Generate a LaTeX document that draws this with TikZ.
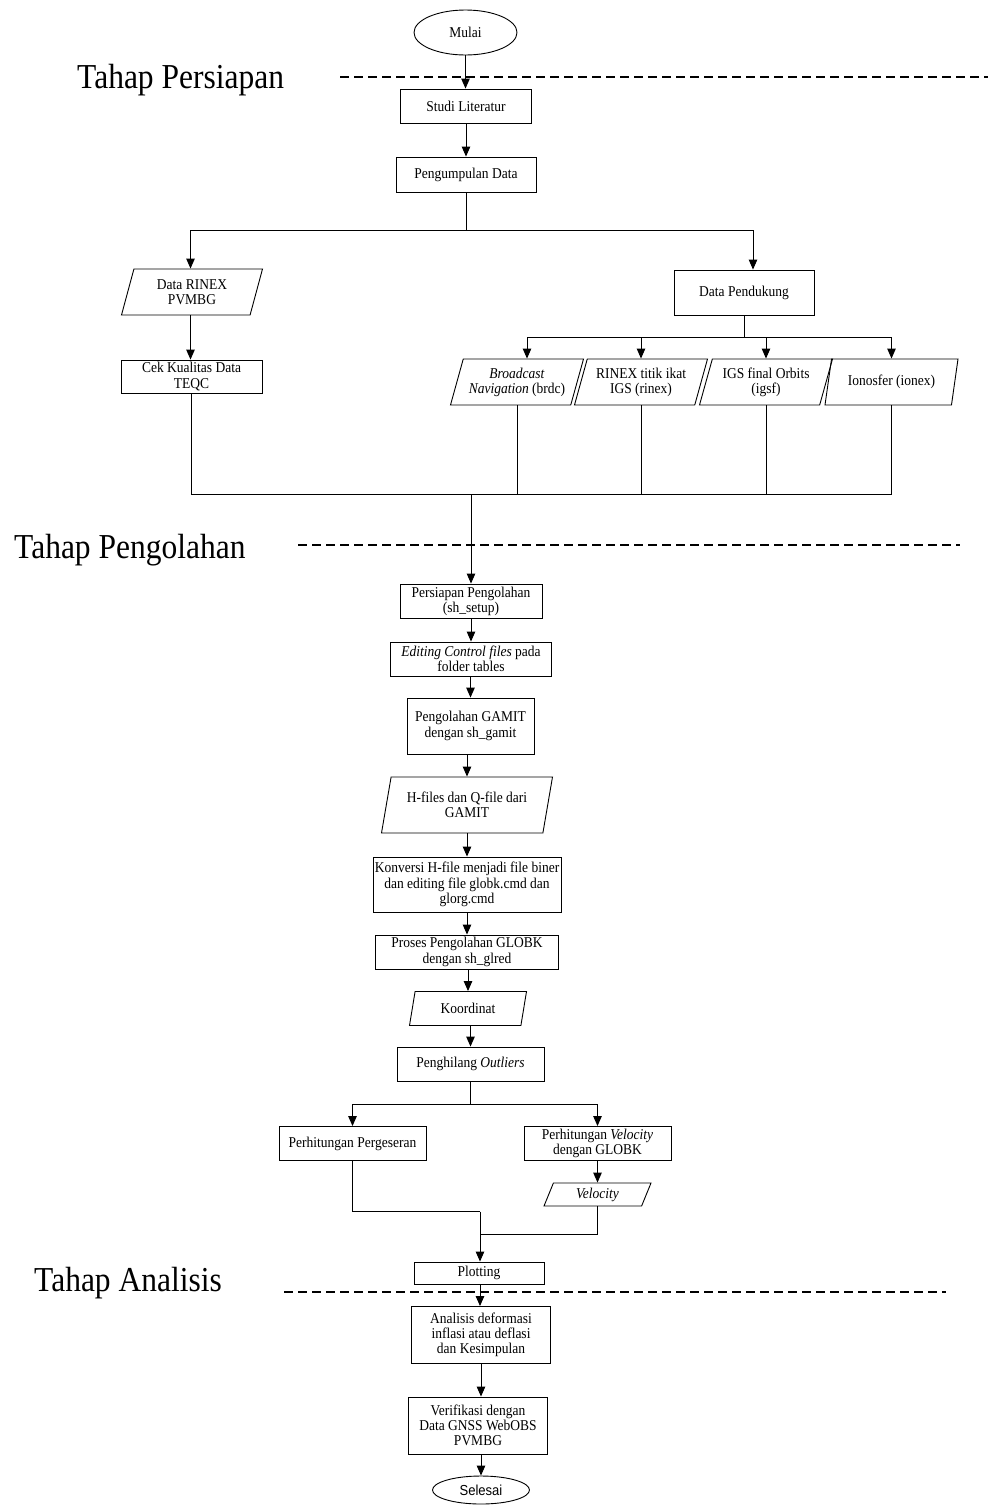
\documentclass[tikz,border=0pt]{standalone}
\usepackage{fontspec}
\setmainfont{Liberation Serif}
\setsansfont{Liberation Sans}
\newfontfamily\narrowserif{Liberation Serif}[FakeStretch=0.9]
\newfontfamily\narrowsans{Liberation Sans}[FakeStretch=0.9]
\usetikzlibrary{shapes.geometric,arrows.meta}
\newcommand{\boxfont}{\narrowserif\fontsize{15}{15.2}\selectfont}
\begin{document}
\begin{tikzpicture}[x=1pt,y=-1pt,
  base/.style={draw, line width=0.9pt, align=center, inner sep=1pt, font=\boxfont},
  box/.style={base, rectangle},
  para/.style={base, trapezium, trapezium stretches body},
  oval/.style={base, ellipse},
  arr/.style={line width=1pt, -{Triangle[length=10pt,width=8.5pt]}},
  ln/.style={line width=1pt},
  phase/.style={font=\narrowserif\fontsize{35}{40}\selectfont, anchor=west, inner sep=0pt},
  sepline/.style={line width=2.2pt, dash pattern=on 9pt off 5pt}
]
\useasboundingbox[fill=white] (0,0) rectangle (990,1508);

% phase labels and separators
\node[phase] (tp1) at (77,80) {Tahap Persiapan};
\node[phase] (tp2) at (14,550) {Tahap Pengolahan};
\node[phase] (tp3) at (34,1283) {Tahap Analisis};
\coordinate (d1a) at (340,77);   \coordinate (d1b) at (988,77);
\coordinate (d2a) at (298,545);  \coordinate (d2b) at (960,545);
\coordinate (d3a) at (284,1292); \coordinate (d3b) at (946,1292);
\draw[sepline] (d1a) -- (d1b);
\draw[sepline] (d2a) -- (d2b);
\draw[sepline] (d3a) -- (d3b);

% nodes
\node[oval, minimum width=103pt, minimum height=45pt] (mulai) at (465.5,32.5) {Mulai};
\node[box, minimum width=131pt, minimum height=34pt] (studi) at (466,106) {Studi Literatur};
\node[box, minimum width=140pt, minimum height=35pt] (kumpul) at (466,174.5) {Pengumpulan Data};

\node[para, trapezium left angle=65.5, trapezium right angle=114.5, minimum width=141pt, minimum height=46pt] (rinex) at (192,292) {Data RINEX\\PVMBG};
\node[box, minimum width=141pt, minimum height=33pt] (cek) at (191.5,376.5) {Cek Kualitas Data\\TEQC};
\node[box, minimum width=140pt, minimum height=45pt] (pend) at (744,292.5) {Data Pendukung};

\node[para, trapezium left angle=67.5, trapezium right angle=112.5, minimum width=133pt, minimum height=46pt] (bn) at (517,382) {\textit{Broadcast}\\\textit{Navigation} (brdc)};
\node[para, trapezium left angle=67.5, trapezium right angle=112.5, minimum width=133pt, minimum height=46pt] (ri) at (641,382) {RINEX titik ikat\\IGS (rinex)};
\node[para, trapezium left angle=67.5, trapezium right angle=112.5, minimum width=133pt, minimum height=46pt] (igs) at (766,382) {IGS final Orbits\\(igsf)};
\node[para, trapezium left angle=67.5, trapezium right angle=112.5, minimum width=133pt, minimum height=46pt] (ion) at (891.5,382) {Ionosfer (ionex)};

\node[box, minimum width=142pt, minimum height=34pt] (prep) at (471,601) {Persiapan Pengolahan\\(sh\_setup)};
\node[box, minimum width=161pt, minimum height=34pt] (edit) at (471,659) {\textit{Editing Control files} pada\\folder tables};
\node[box, minimum width=127pt, minimum height=56pt] (gamit) at (470.5,726) {Pengolahan GAMIT\\dengan sh\_gamit};
\node[para, trapezium left angle=71, trapezium right angle=109, minimum width=171pt, minimum height=56pt] (hf) at (467,805) {H-files dan Q-file dari\\GAMIT};
\node[box, minimum width=188pt, minimum height=55pt] (konv) at (467,884.5) {Konversi H-file menjadi file biner\\dan editing file globk.cmd dan\\glorg.cmd};
\node[box, minimum width=183pt, minimum height=34pt] (globk) at (467,952) {Proses Pengolahan GLOBK\\dengan sh\_glred};
\node[para, trapezium left angle=66, trapezium right angle=114, minimum width=117pt, minimum height=34pt] (koord) at (468,1008.5) {Koordinat};
\node[box, minimum width=147pt, minimum height=34pt] (outl) at (470.5,1064) {Penghilang \textit{Outliers}};

\node[box, minimum width=147pt, minimum height=34pt] (gsr) at (352.5,1143.5) {Perhitungan Pergeseran};
\node[box, minimum width=147pt, minimum height=34pt] (velb) at (597.5,1143.5) {Perhitungan \textit{Velocity}\\dengan GLOBK};
\node[para, trapezium left angle=59, trapezium right angle=121, minimum width=107pt, minimum height=23pt] (vel) at (597.5,1194.5) {\textit{Velocity}};

\node[box, minimum width=130pt, minimum height=22pt] (plot) at (479,1273) {Plotting};
\node[box, minimum width=139pt, minimum height=57pt] (anal) at (481,1335) {Analisis deformasi\\inflasi atau deflasi\\dan Kesimpulan};
\node[box, minimum width=139pt, minimum height=57pt] (verif) at (478,1425.5) {Verifikasi dengan\\Data GNSS WebOBS\\PVMBG};
\node[oval, minimum width=97pt, minimum height=28pt, font=\narrowsans\fontsize{14.5}{16}\selectfont] (selesai) at (481,1490) {Selesai};

% junction coordinates
\coordinate (s1) at (466,230);
\coordinate (s2) at (744,337);
\coordinate (m1) at (471,494);
\coordinate (s3) at (470.5,1104);
\coordinate (m2) at (480,1211.5);
\coordinate (m3) at (480,1234);

% connectors
\draw[arr] (mulai.south) -- (mulai.south |- studi.north);
\draw[arr] (studi.south) -- (studi.south |- kumpul.north);
\draw[ln] (kumpul.south) -- (s1);
\draw[arr] (s1) -| ([xshift=-1.5pt]rinex.north);
\draw[arr] (s1) -| ([xshift=9pt]pend.north);
\draw[arr] ([xshift=-1.5pt]rinex.south) -- ([xshift=-1.5pt]rinex.south |- cek.north);

\draw[ln] (pend.south) -- (s2);
\draw[arr] (s2) -| ([xshift=10pt]bn.north);
\draw[arr] (s2) -| (ri.north);
\draw[arr] (s2) -| (igs.north);
\draw[arr] (s2) -| (ion.north);

\draw[ln] (cek.south) |- (m1);
\draw[ln] (bn.south) |- (m1);
\draw[ln] (ri.south) -- (ri.south |- m1);
\draw[ln] (igs.south) -- (igs.south |- m1);
\draw[ln] (ion.south) |- (m1);
\draw[arr] (m1) -- (m1 |- prep.north);

\draw[arr] (prep.south) -- (prep.south |- edit.north);
\draw[arr] (edit.south -| gamit.north) -- (gamit.north);
\draw[arr] (gamit.south -| hf.north) -- (hf.north);
\draw[arr] (hf.south) -- (hf.south |- konv.north);
\draw[arr] (konv.south) -- (konv.south |- globk.north);
\draw[arr] (globk.south -| koord.north) -- (koord.north);
\draw[arr] (koord.south -| outl.north) -- (outl.north);

\draw[ln] (outl.south) -- (s3);
\draw[arr] (s3) -| (gsr.north);
\draw[arr] (s3) -| (velb.north);
\draw[arr] (velb.south) -- (velb.south |- vel.north);

\draw[ln] (gsr.south) |- (m2);
\draw[ln] (vel.south) |- (m3);
\draw[arr] (m2) -- (m2 |- plot.north);

\draw[arr] (plot.south -| m2) -- (m2 |- anal.north);
\draw[arr] (anal.south) -- (anal.south |- verif.north);
\draw[arr] (verif.south -| selesai.north) -- (selesai.north);
\end{tikzpicture}
\end{document}
